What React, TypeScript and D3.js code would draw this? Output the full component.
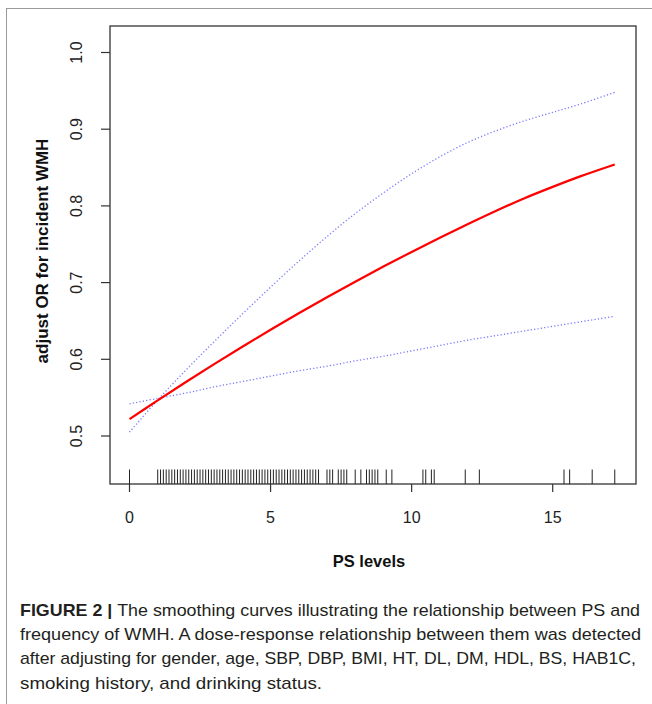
import React from "react";
import * as d3 from "d3";

const psGrid = [0, 1, 2, 3, 4, 5, 6, 7, 8, 9, 10, 11, 12, 13, 14, 15, 16, 17.2];
const fitOR = [0.522, 0.5465, 0.5704, 0.5937, 0.6164, 0.6385, 0.660, 0.6809, 0.7012, 0.7209, 0.740, 0.7585, 0.7764, 0.7937, 0.8100, 0.8248, 0.8388, 0.854];
const upperCI = [0.505, 0.547, 0.586, 0.623, 0.659, 0.694, 0.728, 0.760, 0.790, 0.817, 0.842, 0.864, 0.883, 0.898, 0.911, 0.922, 0.933, 0.948];
const lowerCI = [0.542, 0.549, 0.556, 0.564, 0.571, 0.578, 0.585, 0.591, 0.598, 0.604, 0.611, 0.618, 0.625, 0.631, 0.637, 0.643, 0.649, 0.656];

const rugPS = [
  0,
  1.0, 1.1, 1.2, 1.3, 1.4, 1.5, 1.6, 1.7, 1.8, 1.9,
  2.0, 2.1, 2.2, 2.3, 2.4, 2.5, 2.6, 2.7, 2.8, 2.9,
  3.0, 3.1, 3.2, 3.3, 3.4, 3.5, 3.6, 3.7, 3.8, 3.9,
  4.0, 4.1, 4.2, 4.3, 4.4, 4.5, 4.6, 4.7, 4.8, 4.9,
  5.0, 5.1, 5.2, 5.3, 5.4, 5.5, 5.6, 5.7, 5.8, 5.9,
  6.0, 6.1, 6.2, 6.3, 6.4, 6.5, 6.6, 6.7,
  7.0, 7.1, 7.2, 7.4, 7.5, 7.6, 7.7,
  8.0, 8.2, 8.4, 8.5, 8.6, 8.7, 8.8,
  9.1, 9.3, 10.4, 10.5, 10.7, 10.8, 11.9, 12.4, 15.4, 15.6, 16.4, 17.2,
];

const xTicks = [0, 5, 10, 15];
const yTicks = [0.5, 0.6, 0.7, 0.8, 0.9, 1.0];
const xTitle = "PS levels";
const yTitle = "adjust OR for incident WMH";
const captionBold = "FIGURE 2 | ";
const captionLines = [
  "The smoothing curves illustrating the relationship between PS and",
  "frequency of WMH. A dose-response relationship between them was detected",
  "after adjusting for gender, age, SBP, DBP, BMI, HT, DL, DM, HDL, BS, HAB1C,",
  "smoking history, and drinking status.",
];

export default function App() {
  const box = { left: 110, top: 26, right: 636, bottom: 484 };
  const x = d3.scaleLinear().domain([0, 15]).range([129.5, 552.7]);
  const y = d3.scaleLinear().domain([0.5, 1.0]).range([436, 52.5]);
  const mk = (vals: number[]) =>
    d3
      .line<number>()
      .x((_, i) => x(psGrid[i]))
      .y((v) => y(v))
      .curve(d3.curveCatmullRom.alpha(0.5))(vals) as string;

  const font = "'Liberation Sans', Arial, sans-serif";
  const capLens = [620, 621, 616, 302];
  const capY = [616, 640, 664, 689];

  return (
    <svg
      width={652}
      height={704}
      style={{ position: "absolute", left: 0, top: 0, background: "#fff" }}
      fontFamily={font}
    >
      <rect x={0} y={0} width={652} height={704} fill="#fff" />
      {/* outer figure frame */}
      <line x1={6} x2={652} y1={8.5} y2={8.5} stroke="#9a9a9a" strokeWidth={1} />
      <line x1={6.5} x2={6.5} y1={8} y2={704} stroke="#9a9a9a" strokeWidth={1} />

      {/* plot box */}
      <rect
        x={box.left}
        y={box.top}
        width={box.right - box.left}
        height={box.bottom - box.top}
        fill="none"
        stroke="#333"
        strokeWidth={1.3}
      />

      {/* y axis */}
      {yTicks.map((t) => (
        <g key={t}>
          <line x1={101} x2={box.left} y1={y(t)} y2={y(t)} stroke="#333" strokeWidth={1.2} />
          <text
            transform={`translate(81.5,${y(t)}) rotate(-90)`}
            textAnchor="middle"
            fontSize={16}
            fill="#222"
          >
            {t.toFixed(1)}
          </text>
        </g>
      ))}
      <text
        transform={`translate(48,${(box.top + box.bottom) / 2 - 4}) rotate(-90)`}
        textAnchor="middle"
        fontSize={17}
        fontWeight="bold"
        fill="#111"
      >
        {yTitle}
      </text>

      {/* x axis */}
      {xTicks.map((t) => (
        <g key={t}>
          <line x1={x(t)} x2={x(t)} y1={box.bottom} y2={492} stroke="#333" strokeWidth={1.2} />
          <text x={x(t)} y={523} textAnchor="middle" fontSize={16} fill="#222">
            {t}
          </text>
        </g>
      ))}
      <text x={369} y={567} textAnchor="middle" fontSize={16.5} fontWeight="bold" fill="#111">
        {xTitle}
      </text>

      {/* rug */}
      {rugPS.map((v, i) => (
        <line key={i} x1={x(v)} x2={x(v)} y1={469.5} y2={box.bottom} stroke="#222" strokeWidth={1} />
      ))}

      {/* curves */}
      <path d={mk(upperCI)} fill="none" stroke="#7777ff" strokeWidth={1.3} strokeDasharray="1.2 2.2" />
      <path d={mk(lowerCI)} fill="none" stroke="#7777ff" strokeWidth={1.3} strokeDasharray="1.2 2.2" />
      <path d={mk(fitOR)} fill="none" stroke="#ff0000" strokeWidth={2.2} />

      {/* caption */}
      {captionLines.map((line, i) => (
        <text
          key={i}
          x={20}
          y={capY[i]}
          fontSize={17}
          fill="#231f20"
          textLength={capLens[i]}
          lengthAdjust="spacingAndGlyphs"
        >
          {i === 0 ? <tspan fontWeight="bold">{captionBold}</tspan> : null}
          {line}
        </text>
      ))}
    </svg>
  );
}
